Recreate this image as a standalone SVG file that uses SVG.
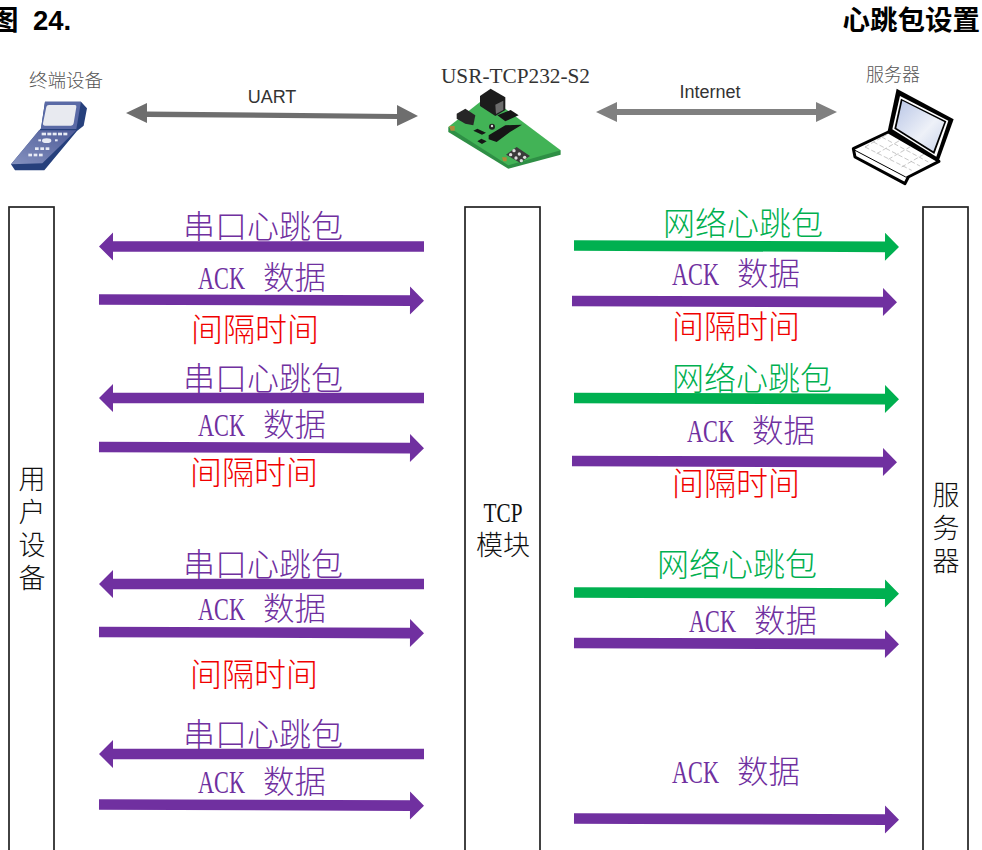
<svg xmlns="http://www.w3.org/2000/svg" width="982" height="850" viewBox="0 0 982 850">
<style>
text{font-family:"Liberation Serif","Noto Sans CJK SC",serif}
.cjk{font-family:"Noto Sans CJK SC",sans-serif;font-weight:300}
.title{font-family:"Liberation Sans","Noto Sans CJK SC",sans-serif;font-weight:700;font-size:27.5px;fill:#000}
.sans{font-family:"Liberation Sans",sans-serif;font-size:18px;fill:#333;text-anchor:middle}
.cap{font-size:18px;fill:#555;text-anchor:middle}
.m{font-size:32px;text-anchor:middle}
.a{font-size:31.5px}
.p{fill:#7030a0}.g{fill:#00b050}.r{fill:#f00000}
.life{fill:#fff;stroke:#222;stroke-width:1.7}
.v{font-size:27px;fill:#111;text-anchor:middle}
</style>
<defs>
<path id="ar" d="M0-5.300H311V-14L325 0 311 14V5.300H0Z"/>
<filter id="soft" x="-5%" y="-5%" width="110%" height="110%"><feGaussianBlur stdDeviation="0.5"/></filter>
<linearGradient id="scr" x1="0" y1="0" x2="1" y2="1"><stop offset="0" stop-color="#b9c6e6"/><stop offset=".6" stop-color="#eef1f8"/><stop offset="1" stop-color="#c9d3ea"/></linearGradient>
<linearGradient id="key" x1="0" y1="1" x2="1" y2="0"><stop offset="0" stop-color="#8491bf"/><stop offset="1" stop-color="#4e5b98"/></linearGradient>
</defs>
<text class="title" x="-9" y="30">图<tspan x="33">24.</tspan></text>
<text class="title" x="980" y="30" text-anchor="end">心跳包设置</text>

<g id="terminal">
<text class="cap cjk" x="66" y="87" style="font-size:18.5px">终端设备</text>
<g transform="translate(5 95) scale(.3333)" filter="url(#soft)">
<path fill="#263f7c" d="M120 20H228L246 40 236 92 216 108 118 226H30L18 208 108 100Z"/>
<path fill="#5a6aa6" d="M120 20H228L214 102H108Z"/>
<path fill="url(#key)" d="M102 106H214L112 205 18 208Z"/>
<path fill="#e8eaf0" d="M132 30H210Q215 30 214 36L206 85Q205 92 198 92H120Q113 92 114 85L124 36Q125 30 132 30Z"/>
<g fill="#e8ebf5">
<rect x="110" y="113" width="13" height="8"/><rect x="127" y="113" width="12" height="8"/><rect x="143" y="113" width="12" height="8"/><rect x="159" y="113" width="12" height="8"/><rect x="175" y="113" width="12" height="8"/>
<ellipse cx="125" cy="137" rx="14" ry="7"/><rect x="100" y="133" width="8" height="6"/><rect x="150" y="133" width="8" height="6"/>
<rect x="90" y="157" width="11" height="8"/><rect x="106" y="157" width="11" height="8"/><rect x="122" y="157" width="11" height="8"/>
<rect x="70" y="176" width="11" height="8"/><rect x="86" y="176" width="11" height="8"/><rect x="102" y="176" width="11" height="8"/>
</g>
</g>
</g>

<g id="uart">
<text class="sans" x="272" y="103">UART</text>
</g>

<g id="module">
<text x="441" y="83" font-size="21" fill="#333" textLength="149" lengthAdjust="spacingAndGlyphs">USR-TCP232-S2</text>
<g transform="translate(440 82) scale(.3333)" filter="url(#soft)">
<path fill="#2f8f45" d="M25 135 362 205V218L205 260 25 150Z"/>
<path fill="#42b356" d="M25 135 120 60 196 80 362 205 205 250Z"/>
<path fill="#1d1d1d" d="M120 42 152 20 196 46V84L166 102 120 72Z"/>
<path fill="#6c6c6c" d="M166 68 190 56V84L168 96Z"/>
<path fill="#262626" d="M50 95 76 80 106 100 100 130 76 125 50 110Z"/>
<path fill="#161616" d="M172 100 212 84 236 100 196 118ZM146 160 196 130 246 128 210 150 170 180 146 172ZM100 146 112 140 138 152 126 158ZM112 178 124 170 140 178 126 186Z"/>
<circle cx="156" cy="134" r="9" fill="#222"/><circle cx="156" cy="132" r="3.500" fill="#ddd"/>
<path fill="#3a3a3a" d="M198 218 230 195 270 222 240 242Z"/>
<g fill="#ddd"><circle cx="222" cy="206" r="5"/><circle cx="238" cy="216" r="5"/><circle cx="254" cy="226" r="5"/><circle cx="212" cy="218" r="5"/><circle cx="228" cy="228" r="5"/><circle cx="244" cy="236" r="5"/></g>
<path fill="#b08a3a" d="M28 132H44V146H32ZM186 226H200V238H190Z"/>
</g>
</g>

<g id="internet">
<text class="sans" x="710" y="98">Internet</text>
</g>

<g id="server-icon">
<text class="cap cjk" x="893" y="81">服务器</text>
<g transform="translate(845 82) scale(.3333)" filter="url(#soft)">
<path fill="#fff" stroke="#000" stroke-width="9" stroke-linejoin="round" d="M130 150 25 200 30 225 180 305 190 285 282 238Z"/>
<path fill="none" stroke="#000" stroke-width="3" d="M30 205 182 285 190 285"/>
<path fill="none" stroke="#aaa" stroke-width="2" stroke-dasharray="14 7" d="M60 195 200 265M85 180 225 252M110 165 250 240M60 195 130 155M95 215 165 175M130 232 200 192M170 255 240 215"/>
<path fill="#000" d="M155 20 326 112 280 240 128 148Z"/>
<path fill="#fff" d="M165 42 310 116 274 224 142 142Z"/>
<path fill="#000" d="M168 50 304 118 268 216 148 140Z"/>
<path fill="url(#scr)" d="M172 56 298 120 265 208 154 138Z"/>
</g>
</g>

<g id="user-device">
<rect class="life" x="9" y="207" width="45" height="660"/>
<text class="v cjk" x="32" y="489">用<tspan x="32" dy="33">户</tspan><tspan x="32" dy="33">设</tspan><tspan x="32" dy="33">备</tspan></text>
</g>
<g id="tcp-module">
<rect class="life" x="465" y="207" width="75" height="660"/>
<text class="v" x="503" y="522"><tspan textLength="39" lengthAdjust="spacingAndGlyphs">TCP</tspan><tspan class="cjk" x="503" dy="33">模块</tspan></text>
</g>
<g id="server">
<rect class="life" x="923" y="207" width="45" height="660"/>
<text class="v cjk" x="946" y="505">服<tspan x="946" dy="33">务</tspan><tspan x="946" dy="33">器</tspan></text>
</g>

<g id="connectors">
<path fill="#6e6e6e" d="M126 113 147 103V111.500L397 114V105L418 116 397 126V119L147 117V123Z"/>
<path fill="#808080" d="M596 112 617 102V109H816V102L837 112 816 122V115H617V122Z"/>
<g class="p">
<use href="#ar" transform="translate(424 246.500) scale(-1 1)"/>
<use href="#ar" transform="translate(99 299.500) rotate(.2)"/>
<use href="#ar" transform="translate(424 398) scale(-1 1)"/>
<use href="#ar" transform="translate(99 447) rotate(.2)"/>
<use href="#ar" transform="translate(424 584) scale(-1 1)"/>
<use href="#ar" transform="translate(99 632) rotate(.2)"/>
<use href="#ar" transform="translate(424 754) scale(-1 1)"/>
<use href="#ar" transform="translate(99 804.500) rotate(.2)"/>
<use href="#ar" transform="translate(572 301) rotate(.2)"/>
<use href="#ar" transform="translate(572 461) rotate(.2)"/>
<use href="#ar" transform="translate(574 643) rotate(.2)"/>
<use href="#ar" transform="translate(574 818.500) rotate(.2)"/>
</g>
<g class="g">
<use href="#ar" transform="translate(574 245.500) rotate(.25)"/>
<use href="#ar" transform="translate(574 398) rotate(.2)"/>
<use href="#ar" transform="translate(574 592.500) rotate(.2)"/>
</g>
</g>

<g id="labels">
<g class="m cjk">
<text class="p" x="263" y="238">串口心跳包</text>
<text class="p" x="263" y="390">串口心跳包</text>
<text class="p" x="263" y="576">串口心跳包</text>
<text class="p" x="263" y="746">串口心跳包</text>
<text class="g" x="743" y="235">网络心跳包</text>
<text class="g" x="752" y="390">网络心跳包</text>
<text class="g" x="737" y="576">网络心跳包</text>
<text class="r" x="255" y="341">间隔时间</text>
<text class="r" x="254" y="484">间隔时间</text>
<text class="r" x="254" y="686">间隔时间</text>
<text class="r" x="736" y="338">间隔时间</text>
<text class="r" x="736" y="495">间隔时间</text>
</g>
<g class="a p">
<text x="198" y="289"><tspan textLength="47" lengthAdjust="spacingAndGlyphs">ACK</tspan> <tspan class="cjk" x="263" dy="0">数据</tspan></text>
<text x="198" y="436"><tspan textLength="47" lengthAdjust="spacingAndGlyphs">ACK</tspan> <tspan class="cjk" x="263">数据</tspan></text>
<text x="198" y="620"><tspan textLength="47" lengthAdjust="spacingAndGlyphs">ACK</tspan> <tspan class="cjk" x="263">数据</tspan></text>
<text x="198" y="793"><tspan textLength="47" lengthAdjust="spacingAndGlyphs">ACK</tspan> <tspan class="cjk" x="263">数据</tspan></text>
<text x="672" y="285"><tspan textLength="47" lengthAdjust="spacingAndGlyphs">ACK</tspan> <tspan class="cjk" x="737">数据</tspan></text>
<text x="687" y="442"><tspan textLength="47" lengthAdjust="spacingAndGlyphs">ACK</tspan> <tspan class="cjk" x="752">数据</tspan></text>
<text x="689" y="632"><tspan textLength="47" lengthAdjust="spacingAndGlyphs">ACK</tspan> <tspan class="cjk" x="754">数据</tspan></text>
<text x="672" y="783"><tspan textLength="47" lengthAdjust="spacingAndGlyphs">ACK</tspan> <tspan class="cjk" x="737">数据</tspan></text>
</g>
</g>
</svg>
